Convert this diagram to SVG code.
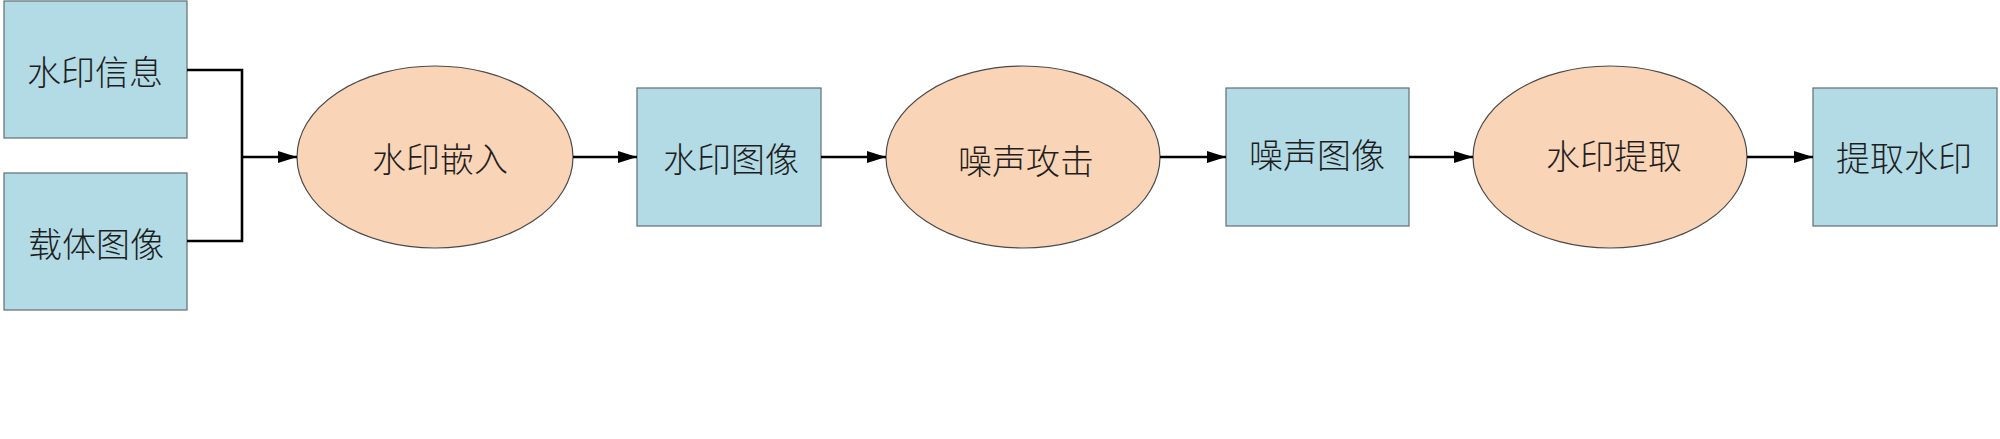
<svg xmlns="http://www.w3.org/2000/svg" width="2000" height="439" viewBox="0 0 2000 439">
<style>
.box{fill:#b3dbe6;stroke:#5f6f75;stroke-width:1.2}
.ell{fill:#f9d4b6;stroke:#4a4a4a;stroke-width:1.2}
.lbl{font-family:"Noto Sans CJK SC","Noto Sans",sans-serif;font-size:34px;fill:#1e1e1e;text-anchor:middle;dominant-baseline:central;font-weight:300}
.con{fill:none;stroke:#000;stroke-width:2.6}
</style>
<defs>
<marker id="arr" markerWidth="20" markerHeight="12" refX="19" refY="6" orient="auto" markerUnits="userSpaceOnUse">
<path d="M0,0 L19,6 L0,12 Z" fill="#000"/>
</marker>
</defs>
<rect width="2000" height="439" fill="#fff"/>
<g id="n1"><rect class="box" x="4" y="1" width="183" height="137"/><text class="lbl" x="95" y="70">水印信息</text></g>
<g id="n2"><rect class="box" x="4" y="173" width="183" height="137"/><text class="lbl" x="96" y="242">载体图像</text></g>
<g id="n3"><ellipse class="ell" cx="435" cy="157" rx="138" ry="91"/><text class="lbl" x="440" y="157">水印嵌入</text></g>
<g id="n4"><rect class="box" x="637" y="88" width="184" height="138"/><text class="lbl" x="731" y="157">水印图像</text></g>
<g id="n5"><ellipse class="ell" cx="1023" cy="157" rx="137" ry="91"/><text class="lbl" x="1026" y="159">噪声攻击</text></g>
<g id="n6"><rect class="box" x="1226" y="88" width="183" height="138"/><text class="lbl" x="1317" y="153">噪声图像</text></g>
<g id="n7"><ellipse class="ell" cx="1610" cy="157" rx="137" ry="91"/><text class="lbl" x="1614" y="154">水印提取</text></g>
<g id="n8"><rect class="box" x="1813" y="88" width="184" height="138"/><text class="lbl" x="1904" y="156">提取水印</text></g>
<g id="connectors">
<path class="con" d="M187,70 H242 V241 H187"/>
<path class="con" d="M242,157 H297" marker-end="url(#arr)"/>
<path class="con" d="M573,157 H637" marker-end="url(#arr)"/>
<path class="con" d="M1160,157 H1226" marker-end="url(#arr)"/>
<path class="con" d="M821,157 H886" marker-end="url(#arr)"/>
<path class="con" d="M1747,157 H1813" marker-end="url(#arr)"/>
<path class="con" d="M1409,157 H1473" marker-end="url(#arr)"/>
</g>
</svg>
